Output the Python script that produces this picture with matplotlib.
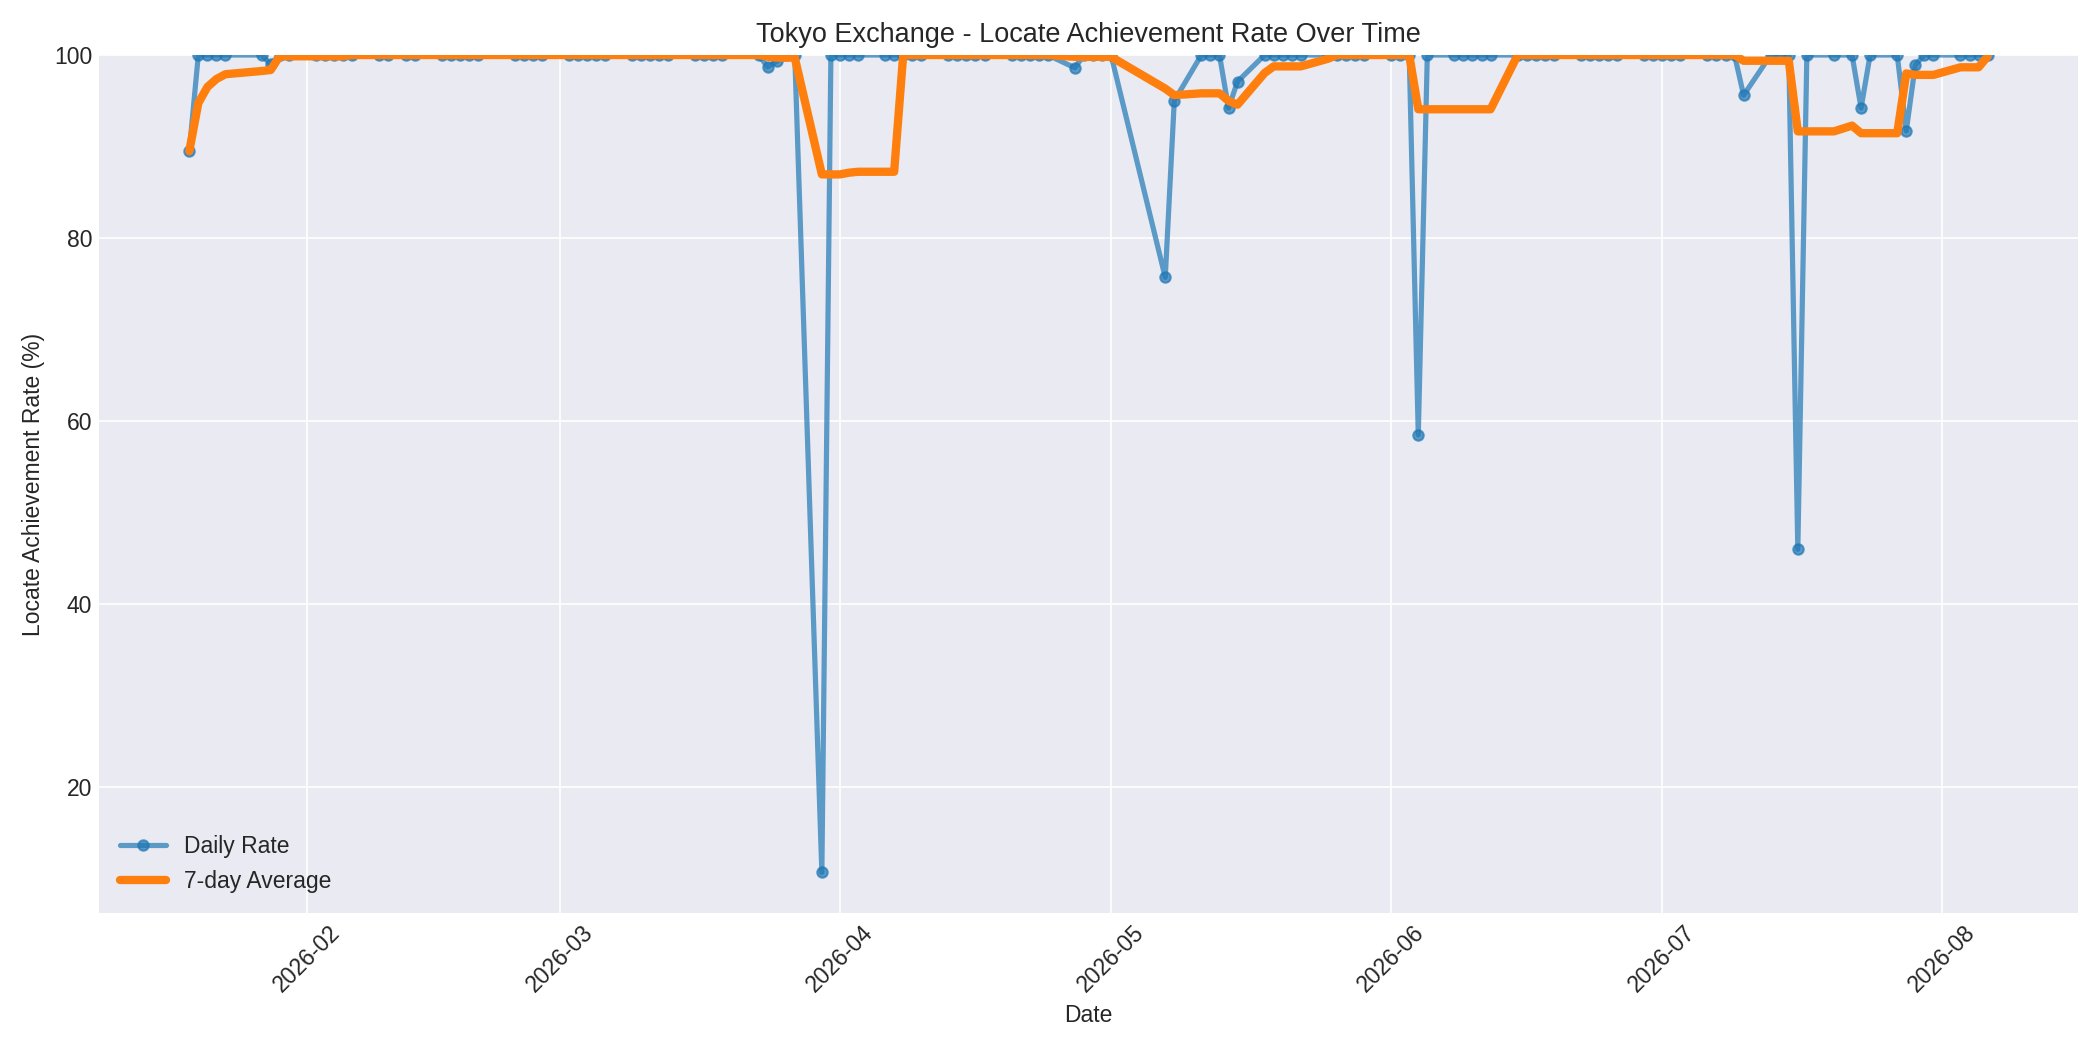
import matplotlib
matplotlib.use("Agg")
import matplotlib.pyplot as plt
import matplotlib.dates as mdates
import pandas as pd

# trading days per month (day of month) and daily locate achievement rate (%)
jan_days = [19, 20, 21, 22, 23, 27, 28, 29, 30]
jan_rate = [89.5, 100, 100, 100, 100, 100, 99.0, 100, 100]
feb_days = [2, 3, 4, 5, 6, 9, 10, 12, 13, 16, 17, 18, 19, 20, 24, 25, 26, 27]
feb_rate = [100] * 18
mar_days = [2, 3, 4, 5, 6, 9, 10, 11, 12, 13, 16, 17, 18, 19, 23, 24, 25, 26, 27, 30, 31]
mar_rate = [100, 100, 100, 100, 100, 100, 100, 100, 100, 100, 100, 100, 100, 100,
            100, 98.7, 99.3, 100, 100, 10.7, 100]
apr_days = [1, 2, 3, 6, 7, 8, 9, 10, 13, 14, 15, 16, 17, 20, 21, 22, 23, 24, 27, 28, 29, 30]
apr_rate = [100, 100, 100, 100, 100, 100, 100, 100, 100, 100, 100, 100, 100,
            100, 100, 100, 100, 100, 98.6, 100, 100, 100]
may_days = [1, 7, 8, 11, 12, 13, 14, 15, 18, 19, 20, 21, 22, 25, 26, 27, 28, 29]
may_rate = [100, 75.7, 95.0, 100, 100, 100, 94.2, 97.1, 100, 100, 100, 100, 100,
            100, 100, 100, 100, 100]
jun_days = [1, 2, 3, 4, 5, 8, 9, 10, 11, 12, 15, 16, 17, 18, 19, 22, 23, 24, 25, 26, 29, 30]
jun_rate = [100, 100, 100, 58.5, 100, 100, 100, 100, 100, 100, 100, 100, 100,
            100, 100, 100, 100, 100, 100, 100, 100, 100]
jul_days = [1, 2, 3, 6, 7, 8, 9, 10, 13, 14, 15, 16, 17, 20, 22, 23, 24, 27, 28, 29, 30, 31]
jul_rate = [100, 100, 100, 100, 100, 100, 100, 95.6, 100, 100, 100, 46.0, 100,
            100, 100, 94.2, 100, 100, 91.7, 98.9, 100, 100]
aug_days = [3, 4, 5, 6]
aug_rate = [100, 100, 100, 100]

months = [(1, jan_days), (2, feb_days), (3, mar_days), (4, apr_days), (5, may_days),
          (6, jun_days), (7, jul_days), (8, aug_days)]
dates = [pd.Timestamp(2026, m, d) for m, days in months for d in days]
rates = jan_rate + feb_rate + mar_rate + apr_rate + may_rate + jun_rate + jul_rate + aug_rate

df = pd.DataFrame({"date": dates, "rate": rates})
df["avg7"] = df["rate"].rolling(7, min_periods=1).mean()

plt.style.use("seaborn-v0_8-darkgrid")
fig, ax = plt.subplots(figsize=(14, 7), dpi=150)
ax.plot(df["date"], df["rate"], "o-", color="C0", alpha=0.7, lw=2.5, markersize=5,
        label="Daily Rate")
ax.plot(df["date"], df["avg7"], "-", color="C1", lw=4, label="7-day Average")
ax.set_ylim(top=100)
ax.set_title("Tokyo Exchange - Locate Achievement Rate Over Time", fontsize=13)
ax.set_xlabel("Date", fontsize=11)
ax.set_ylabel("Locate Achievement Rate (%)", fontsize=11)
ax.xaxis.set_major_locator(mdates.MonthLocator())
ax.xaxis.set_major_formatter(mdates.DateFormatter("%Y-%m"))
plt.setp(ax.get_xticklabels(), rotation=45, fontsize=11)
plt.setp(ax.get_yticklabels(), fontsize=11)
ax.legend(loc="lower left", fontsize=11)
fig.tight_layout()
fig.savefig("out.png")
